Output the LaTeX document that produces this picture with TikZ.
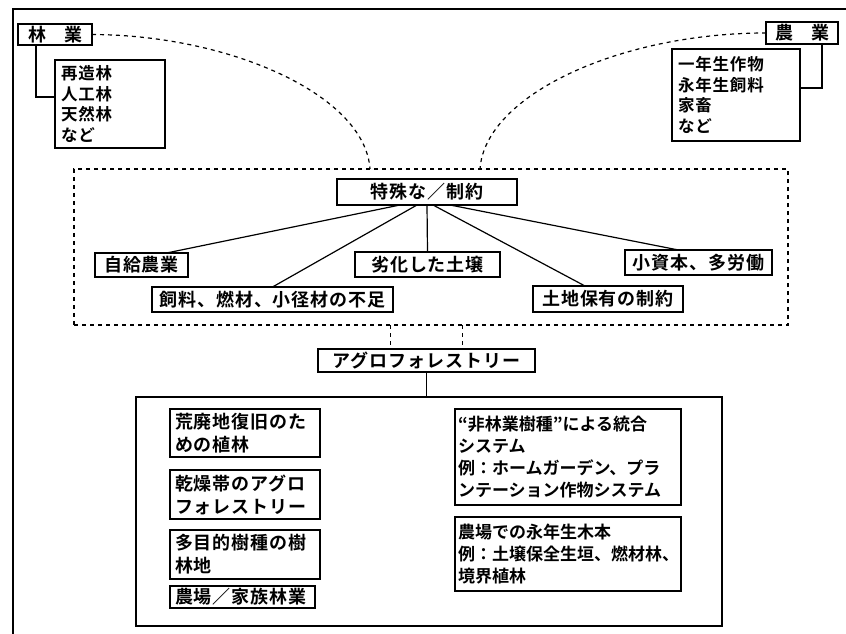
\documentclass[tikz,border=0pt]{standalone}
\usepackage{fontspec}
\newfontfamily\jp{Noto Sans CJK JP Bold}
\newfontfamily\jpls[LetterSpace=5]{Noto Sans CJK JP Bold}
\begin{document}
\begin{tikzpicture}[x=1pt,y=-1pt,
  every node/.style={inner sep=0pt, outer sep=0pt},
  bx/.style={draw, line width=1.3pt, anchor=north west, font=\jpls\fontsize{18}{23}\selectfont},
  lbx/.style={bx, align=left, inner xsep=5pt},
  rbx/.style={bx, align=left, inner xsep=3pt, font=\jp\fontsize{17}{22}\selectfont},
  sbx/.style={bx, align=left, inner xsep=6pt, font=\jpls\fontsize{16.5}{20.5}\selectfont},
  dbox/.style={draw, line width=1.1pt, dash pattern=on 4pt off 4pt, anchor=north west},
  con/.style={line width=1.2pt},
  dcon/.style={line width=1.2pt, dash pattern=on 4pt off 4pt},
  frame/.style={line width=1.4pt}
]
\useasboundingbox (0,0) rectangle (846,634);
% open outer frame
\draw[frame] (846,9) -- (13,9) -- (13,634);

% forestry
\node[bx, minimum width=74, minimum height=21] (rin) at (18,24) {林\quad 業};
\node[sbx, text width=98, minimum height=88] (rinl) at (55,60) {再造林\\人工林\\天然林\\など};
\draw[con] ([xshift=18pt]rin.south west) |- ([yshift=-37pt]rinl.north west);

% agriculture
\node[bx, minimum width=72, minimum height=22] (no) at (766,22) {農\quad 業};
\node[sbx, text width=116, minimum height=92] (nol) at (672,49) {一年生作物\\永年生飼料\\家畜\\など};
\draw[con] ([xshift=56pt]no.south west) |- ([yshift=-39pt]nol.north east);

% dashed zone
\node[dbox, minimum width=714, minimum height=156] (zone) at (74,169) {};
\coordinate (cl) at (370,169);
\coordinate (cr) at (480,169);
\draw[dcon] (rin.east) .. controls (230,35) and (365,95) .. (cl);
\draw[dcon] (no.west) .. controls (620,33) and (485,95) .. (cr);

\node[bx, minimum width=180, minimum height=26] (tok) at (337,179) {特殊な／制約};
\node[bx, minimum width=93, minimum height=24] (jik) at (95,253) {自給農業};
\node[bx, minimum width=145, minimum height=25] (rek) at (355,252) {劣化した土壌};
\node[bx, minimum width=147, minimum height=25] (sho) at (625,250) {小資本、多労働};
\node[bx, minimum width=241, minimum height=25] (shi) at (152,287) {飼料、燃材、小径材の不足};
\node[bx, minimum width=150, minimum height=26] (toc) at (533,286) {土地保有の制約};

\draw[con] ([xshift=-27pt]tok.south) -- ([xshift=25pt]jik.north);
\draw[con] ([xshift=-10pt]tok.south) -- (shi.north);
\draw[con] (tok.south) -- (rek.north);
\draw[con] ([xshift=6pt]tok.south) -- ([xshift=-23pt]toc.north);
\draw[con] ([xshift=23pt]tok.south) -- ([xshift=-20pt]sho.north);

% agroforestry
\node[bx, minimum width=217, minimum height=23] (agro) at (318,349) {アグロフォレストリー};
\draw[dcon] ([xshift=-36pt]agro.north |- zone.south) -- ([xshift=-36pt]agro.north);
\draw[dcon] ([xshift=36pt]agro.north |- zone.south) -- ([xshift=36pt]agro.north);

\node[draw, line width=1.3pt, anchor=north west, minimum width=586, minimum height=229] (big) at (136,397) {};
\draw[con] (agro.south) -- (agro.south |- big.north);

\node[lbx, text width=140, minimum height=48] (b1) at (170,409) {荒廃地復旧のた\\めの植林};
\node[lbx, text width=140, minimum height=49] (b2) at (170,470) {乾燥帯のアグロ\\フォレストリー};
\node[lbx, text width=140, minimum height=49] (b3) at (170,530) {多目的樹種の樹\\林地};
\node[lbx, text width=135, minimum height=22] (b4) at (170,586) {農場／家族林業};

\node[rbx, text width=220, minimum height=96] (r1) at (455,409) {“非林業樹種”による統合\\システム\\例：ホームガーデン、プラ\\ンテーション作物システム};
\node[rbx, text width=220, minimum height=74] (r2) at (455,517) {農場での永年生木本\\例：土壌保全生垣、燃材林、\\境界植林};
\end{tikzpicture}
\end{document}
